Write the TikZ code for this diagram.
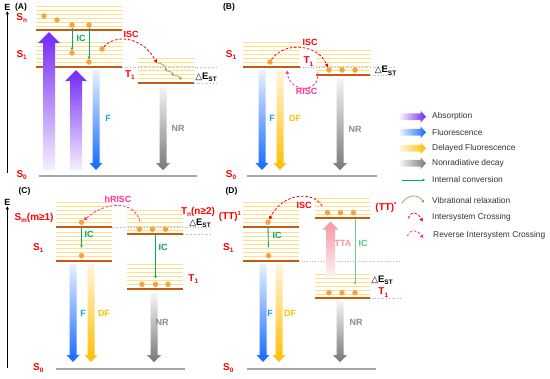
\documentclass[tikz,border=0pt]{standalone}
\usepackage{fontspec}
\setmainfont{Liberation Sans}
\newfontfamily\dejavu{DejaVu Sans}
\usetikzlibrary{arrows.meta}
\definecolor{ylwc}{RGB}{255,222,135}
\definecolor{lvlc}{RGB}{197,90,17}
\definecolor{dotc}{RGB}{245,163,64}
\definecolor{redc}{RGB}{255,0,0}
\definecolor{pinkc}{RGB}{255,51,153}
\definecolor{greenc}{RGB}{0,176,80}
\definecolor{lgreen}{RGB}{110,205,130}
\definecolor{vgreen}{RGB}{120,170,90}
\definecolor{flabel}{RGB}{30,160,240}
\definecolor{dfc}{RGB}{255,192,0}
\definecolor{nrlab}{RGB}{140,140,140}
\definecolor{purp}{RGB}{115,40,245}
\definecolor{purpL}{RGB}{246,240,255}
\definecolor{fD}{RGB}{20,105,255}
\definecolor{fL}{RGB}{232,241,255}
\definecolor{dD}{RGB}{255,190,0}
\definecolor{dL}{RGB}{255,246,220}
\definecolor{nD}{RGB}{120,120,120}
\definecolor{nL}{RGB}{245,245,245}
\definecolor{ttaD}{RGB}{247,150,160}
\definecolor{ttaL}{RGB}{255,242,244}
\newcommand\lvlstack[4]{%
  \pgfmathsetmacro\lvlbase{2*floor(#3/2)}%
  \foreach \j in {1,...,#4} {\draw[ylwline] (#1,\lvlbase-4*\j+0.5) -- (#2,\lvlbase-4*\j+0.5);}
  \draw[lvlline] (#1,#3) -- (#2,#3);}
\newcommand\varrow[8]{%
  \shade[top color=#7,bottom color=#8,middle color={#7!50!#8}]
  (#1-#4/2,#2) -- (#1+#4/2,#2) -- (#1+#4/2,#3-#6) -- (#1+#5/2,#3-#6) -- (#1,#3)
  -- (#1-#5/2,#3-#6) -- (#1-#4/2,#3-#6) -- cycle;}
\newcommand\harrow[8]{%
  \shade[left color=#7,right color=#8]
  (#1,#3-#4/2) -- (#2-#6,#3-#4/2) -- (#2-#6,#3-#5/2) -- (#2,#3) -- (#2-#6,#3+#5/2)
  -- (#2-#6,#3+#4/2) -- (#1,#3+#4/2) -- cycle;}
\newcommand\lsub[1]{\raisebox{-0.45ex}{\fontsize{6.5}{6.5}\selectfont #1}}
\newcommand\lsup[1]{\raisebox{0.8ex}{\fontsize{6}{6}\selectfont #1}}
\newcommand\dEst{{\dejavu\mdseries\fontsize{9}{9}\selectfont △}E\lsub{ST}}
\begin{document}
\begin{tikzpicture}[x=1bp,y=-1bp,
  ylwline/.style={draw=ylwc, line width=1bp},
  lvlline/.style={draw=lvlc, line width=2.4pt},
  edot/.style={circle, fill=dotc, inner sep=0pt, minimum size=5.5pt},
  dotline/.style={draw=black!30, dotted, line width=0.7pt},
  s0line/.style={draw=black!35, line width=1.6pt},
  lab/.style={font=\fontsize{10}{10}\selectfont\bfseries, text=redc, inner sep=0.5pt},
  plab/.style={font=\fontsize{9}{9}\selectfont\bfseries, inner sep=0.5pt},
  dlab/.style={font=\fontsize{9.5}{10}\selectfont\bfseries, text=black, inner sep=0.5pt},
  leg/.style={font=\fontsize{8.4}{10}\selectfont, text=black!80, anchor=west, inner sep=0pt},
  icarrow/.style={draw=greenc, line width=0.8pt, -{Triangle[length=2.5pt,width=2.6pt]}},
  icline/.style={draw=greenc, line width=0.9pt},
  icl/.style={draw=lgreen, line width=1pt, -{Triangle[length=2.5pt,width=2.6pt]}},
  vrarrow/.style={draw=vgreen, line width=0.7pt, -{Triangle[length=2.5pt,width=2.6pt]}},
  iscarrow/.style={draw=redc, dash pattern=on 2.6pt off 1.8pt, line width=0.8pt, -{Triangle[length=3.5pt,width=3.5pt]}},
  riscarrow/.style={iscarrow, draw=pinkc},
  axisarrow/.style={draw=black, line width=0.8pt, -{Triangle[length=3pt,width=3pt]}}]
\fill[white] (0,0) rectangle (550,378);
\useasboundingbox (0,0) rectangle (550,378);
% ---------- energy level stacks ----------
\lvlstack{36}{122}{30}{6}
\lvlstack{36}{122}{67}{6}
\lvlstack{138}{194}{83}{6}
\lvlstack{243}{300}{67}{6}
\lvlstack{316}{370}{75}{6}
\lvlstack{56}{112}{227}{6}
\lvlstack{56}{112}{261}{7}
\lvlstack{127}{183}{234}{6}
\lvlstack{127}{183}{289}{6}
\lvlstack{243}{299}{227}{6}
\lvlstack{243}{299}{261}{7}
\lvlstack{315}{370}{218}{5}
\lvlstack{315}{370}{298}{6}
% ---------- dotted reference lines ----------
\draw[dotline] (122,67) -- (217,67);
\draw[dotline] (194,83) -- (217,83);
\draw[dotline] (300,67) -- (396,67);
\draw[dotline] (370,75) -- (396,75);
\draw[dotline] (112,227) -- (211,227);
\draw[dotline] (183,234) -- (211,234);
\draw[dotline] (299,261) -- (400,261);
\draw[dotline] (370,298) -- (400,298);
% ---------- ground states ----------
\draw[s0line] (39,176) -- (197,176);
\draw[s0line] (247,176) -- (377,176);
\draw[s0line] (56,369) -- (185,369);
\draw[s0line] (247,369) -- (376,369);
% ---------- gradient arrows ----------
\varrow{49}{170}{32}{12}{22}{-11}{purp}{purpL}
\varrow{76}{170}{70}{12}{22}{-11}{purp}{purpL}
\varrow{96}{70}{170}{7}{13}{7}{fL}{fD}
\varrow{163}{87}{170}{7}{14}{7}{nL}{nD}
\varrow{262}{70}{170}{7}{13}{7}{fL}{fD}
\varrow{280}{70}{170}{7}{13}{7}{dL}{dD}
\varrow{340}{78}{170}{7}{14}{7}{nL}{nD}
\varrow{73}{264}{362}{7}{13}{7}{fL}{fD}
\varrow{91}{264}{362}{7}{13}{7}{dL}{dD}
\varrow{154}{293}{362}{7}{14}{7}{nL}{nD}
\varrow{263}{264}{362}{7}{13}{7}{fL}{fD}
\varrow{279}{264}{362}{7}{13}{7}{dL}{dD}
\varrow{340}{301}{362}{7}{14}{7}{nL}{nD}
\varrow{330.5}{277}{221.5}{9}{16}{-8}{ttaD}{ttaL}
% ---------- electrons ----------
\node[edot] (a1) at (44,16) {};
\node[edot] (a2) at (57,20) {};
\node[edot] (a3) at (72,25) {};
\node[edot] (a4) at (89,25) {};
\node[edot] (a5) at (72,53) {};
\node[edot] (a6) at (89,62) {};
\node[edot] (a7) at (102,49) {};
\node[edot] (b1) at (270,62) {};
\node[edot] (b2) at (329,70) {};
\node[edot] (b3) at (342,70) {};
\node[edot] (b4) at (355,70) {};
\node[edot] (c1) at (81.5,222.3) {};
\node[edot] (c2) at (81.5,255.7) {};
\node[edot] (c3) at (139.5,229.3) {};
\node[edot] (c4) at (152.5,229.3) {};
\node[edot] (c5) at (165.5,229.3) {};
\node[edot] (c6) at (142,284.3) {};
\node[edot] (c7) at (155.5,284.3) {};
\node[edot] (c8) at (168,284.3) {};
\node[edot] (d1) at (268,222.3) {};
\node[edot] (d2) at (268.5,255.7) {};
\node[edot] (d3) at (327.5,212.7) {};
\node[edot] (d4) at (340.5,212.7) {};
\node[edot] (d5) at (353.5,212.7) {};
\node[edot] (d6) at (329,292.7) {};
\node[edot] (d7) at (342,292.7) {};
\node[edot] (d8) at (355,292.7) {};
% ---------- free ends ----------
\coordinate (iscA1) at (157,63);
\coordinate (v1) at (166,71);
\coordinate (v2) at (173,76);
\coordinate (v3) at (181,80);
\coordinate (riscB0) at (318,72);
\coordinate (riscB1) at (287,70.5);
\coordinate (hrC0) at (140,221.5);
\coordinate (icC0) at (155.5,235);
\coordinate (iscD0) at (322,206);
\coordinate (icD0) at (355,219);
\coordinate (axA0) at (7.3,173);
\coordinate (axC0) at (7.3,368);
% ---------- process connectors ----------
\draw[icarrow] (a3) -- (a5);
\draw[icarrow] (a4) -- (a6);
\draw[iscarrow] (a7) .. controls (115,34) and (142,36) .. (iscA1);
\draw[vrarrow] (iscA1) to[bend left=45] (v1);
\draw[vrarrow] (v1) to[bend left=45] (v2);
\draw[vrarrow] (v2) to[bend left=45] (v3);
\draw[iscarrow] (b1) .. controls (284,41) and (318,44) .. (b2);
\draw[riscarrow] (riscB0) .. controls (320,94) and (290,93) .. (riscB1);
\draw[riscarrow] (hrC0) .. controls (134,200) and (106,201) .. (c1);
\draw[icarrow, shorten <=2pt, shorten >=5pt] (c1) -- (c2);
\draw[icarrow, shorten >=3pt] (icC0) -- (c7);
\draw[iscarrow] (iscD0) .. controls (314,191) and (283,192) .. (d1);
\draw[icline, shorten <=2pt, shorten >=5.5pt] (d1) -- (d2);
\draw[icl, shorten >=5pt] (icD0) -- (d8);
% ---------- axes ----------
\node[font=\fontsize{9}{9}\selectfont\bfseries, inner sep=1pt] (EA) at (7.3,7) {E};
\node[font=\fontsize{9}{9}\selectfont\bfseries, inner sep=1pt] (EC) at (7.3,202) {E};
\draw[axisarrow] (axA0) -- (EA);
\draw[axisarrow] (axC0) -- (EC);
% ---------- panel letters ----------
\node[font=\fontsize{8.5}{9}\selectfont\bfseries] (pA) at (21,7.3) {(A)};
\node[font=\fontsize{8.5}{9}\selectfont\bfseries] (pB) at (229,7.3) {(B)};
\node[font=\fontsize{8.5}{9}\selectfont\bfseries] (pC) at (24.5,191) {(C)};
\node[font=\fontsize{8.5}{9}\selectfont\bfseries] (pD) at (231.5,191.7) {(D)};
% ---------- panel A labels ----------
\node[lab] (lSnA) at (21.7,18.3) {S\lsub{n}};
\node[lab] (lS1A) at (21.7,55) {S\lsub{1}};
\node[lab] (lS0A) at (21.7,175) {S\lsub{0}};
\node[lab] (lT1A) at (130,75) {T\lsub{1}};
\node[plab, text=redc] (iscA) at (131,34) {ISC};
\node[plab, text=greenc] (icA) at (81,38) {IC};
\node[plab, text=flabel] (fA) at (108,118) {F};
\node[plab, text=nrlab] (nrA) at (178,128) {NR};
\node[dlab] (dA) at (206,77.3) {\dEst};
% ---------- panel B labels ----------
\node[lab] (lS1B) at (231,55) {S\lsub{1}};
\node[lab] (lS0B) at (231,175) {S\lsub{0}};
\node[plab, text=redc] (iscB) at (310,42) {ISC};
\node[lab] (lT1B) at (308.5,61.7) {T\lsub{1}};
\node[plab, text=pinkc] (riscB) at (306.7,91.7) {RISC};
\node[dlab] (dB) at (385.5,70.7) {\dEst};
\node[plab, text=flabel] (fB) at (272,118) {F};
\node[plab, text=dfc] (dfB) at (295,118) {DF};
\node[plab, text=nrlab] (nrB) at (355,129) {NR};
% ---------- panel C labels ----------
\node[lab] (lSmC) at (34,217.7) {S\lsub{m}(m≥1)};
\node[lab] (lS1C) at (38.3,248.3) {S\lsub{1}};
\node[lab] (lS0C) at (38.3,368.3) {S\lsub{0}};
\node[plab, text=pinkc] (hriscC) at (118,199) {hRISC};
\node[plab, text=greenc] (icC1) at (89,234) {IC};
\node[lab] (lTnC) at (198,211.7) {T\lsub{n}(n≥2)};
\node[dlab] (dC) at (200,223.3) {\dEst};
\node[plab, text=greenc] (icC2) at (163,247) {IC};
\node[lab] (lT1C) at (193.3,279.3) {T\lsub{1}};
\node[plab, text=flabel] (fC) at (83,313) {F};
\node[plab, text=dfc] (dfC) at (104,313) {DF};
\node[plab, text=nrlab] (nrC) at (162,322) {NR};
% ---------- panel D labels ----------
\node[lab] (lTTD) at (230,216.7) {(TT)\lsup{1}};
\node[lab] (lS1D) at (228.3,248.3) {S\lsub{1}};
\node[lab] (lS0D) at (228.3,368.3) {S\lsub{0}};
\node[plab, text=redc] (iscD) at (304,205) {ISC};
\node[plab, text=greenc] (icD1) at (277,235) {IC};
\node[lab] (lTTsD) at (386,207.7) {(TT)\lsup{*}};
\node[plab, text=ttaD] (ttaD) at (343,243) {TTA};
\node[plab, text=greenc!70!white] (icD2) at (363,243) {IC};
\node[dlab] (dD) at (382,280) {\dEst};
\node[lab] (lT1D) at (383.3,292.7) {T\lsub{1}};
\node[plab, text=flabel] (fD) at (270,313) {F};
\node[plab, text=dfc] (dfD) at (290,313) {DF};
\node[plab, text=nrlab] (nrD) at (356,322) {NR};
% ---------- legend ----------
\harrow{400}{426}{116.7}{6.7}{12}{5.5}{purpL}{purp}
\harrow{400}{426}{132.3}{6.7}{12}{5.5}{fL}{fD}
\harrow{400}{426}{148.3}{6.7}{12}{5.5}{dL}{dD}
\harrow{400}{426}{163.3}{6.7}{12}{5.5}{nL}{nD}
\coordinate (g1a) at (402,180);
\coordinate (g1b) at (425,180);
\coordinate (g2a) at (401.7,203.3);
\coordinate (g2b) at (424,202.7);
\coordinate (g3a) at (408.3,218.3);
\coordinate (g3b) at (422.7,221.7);
\coordinate (g4a) at (407.3,236);
\coordinate (g4b) at (423.3,238.3);
\draw[icarrow] (g1a) -- (g1b);
\draw[vrarrow] (g2a) .. controls (408,194) and (418,194) .. (g2b);
\draw[iscarrow] (g3a) .. controls (411,211) and (417,211) .. (g3b);
\draw[riscarrow] (g4a) .. controls (410,229) and (417,229) .. (g4b);
\node[leg] (t1) at (432,116.7) {Absorption};
\node[leg] (t2) at (432,132.3) {Fluorescence};
\node[leg] (t3) at (432,148.3) {Delayed Fluorescence};
\node[leg] (t4) at (432,163.3) {Nonradiative decay};
\node[leg] (t5) at (432,180) {Internal conversion};
\node[leg] (t6) at (432,200.7) {Vibrational relaxation};
\node[leg] (t7) at (432,217.7) {Intersystem Crossing};
\node[leg] (t8) at (433,235.3) {Reverse Intersystem Crossing};
\end{tikzpicture}
\end{document}
